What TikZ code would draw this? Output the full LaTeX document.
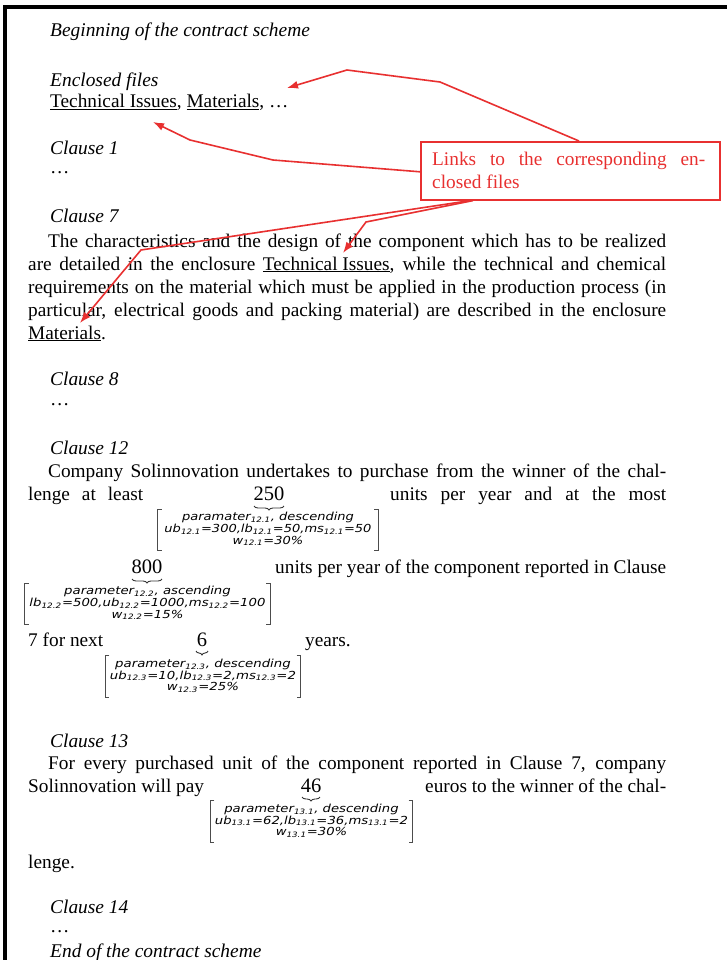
\documentclass[tikz,border=0pt]{standalone}
\usepackage{fontspec}
\usepackage{graphicx}
\setmainfont{Liberation Serif}
\newfontfamily\prmfont{DejaVu Sans}
\usetikzlibrary{decorations.pathreplacing,arrows.meta,calc}
\definecolor{lred}{RGB}{232,48,48}
\newcommand{\sbx}[1]{\textsubscript{\fontsize{6}{6}\selectfont #1}}
\newcommand{\prmblock}[5]{\resizebox*{#1}{#2}{\prmfont\itshape\fontsize{9}{10}\selectfont\renewcommand{\arraystretch}{0.9}\begin{tabular}{@{}c@{}}#3\\#4\\#5\end{tabular}}}
\tikzset{
  txt/.style={anchor=base west, inner sep=0pt, font=\fontsize{19.3}{22}\selectfont},
  hd/.style={anchor=base west, inner sep=0pt, font=\fontsize{19.4}{22}\selectfont\itshape},
  num/.style={anchor=base, inner sep=0pt, font=\fontsize{20.5}{22}\selectfont},
  prm/.style={inner sep=0pt},
  brk/.style={draw=black!70, line width=0.8pt},
  brc/.style={draw=black!80, line width=0.9pt, decorate, decoration={brace, amplitude=4pt, mirror}},
  link/.style={draw=lred, line width=1.6pt, -{Latex[length=11pt,width=8pt]}},
  lbox/.style={draw=lred, line width=1.6pt, inner sep=0pt, anchor=north west},
  ltxt/.style={anchor=base west, inner sep=0pt, text=lred, font=\fontsize{19.3}{22}\selectfont}
}
\begin{document}
\begin{tikzpicture}[x=1pt,y=-1pt]
\useasboundingbox (0,0) rectangle (726,960);
\fill[white] (0,0) rectangle (726,960);
% frame
\draw[line width=3.5pt] (5,970) -- (5,7) -- (740,7);

% text
\node[hd] (begin) at (50,37) {Beginning of the contract scheme};
\node[hd] (encl) at (50,87) {Enclosed files};
\node[txt] (files) at (50,108) {\underline{Technical Issues}, \underline{Materials}, \dots};
\node[hd] (c1) at (50,155) {Clause 1};
\node[txt] (d1) at (50,174) {\dots};
\node[hd] (c7) at (50,222) {Clause 7};
\node[txt] (l71) at (48,247) {\makebox[618pt][s]{The characteristics and the design of the component which has to be realized}};
\node[txt] (l72) at (28,270) {\makebox[638pt][s]{are detailed in the enclosure \underline{Technical Issues}, while the technical and chemical}};
\node[txt] (l73) at (28,293) {\makebox[638pt][s]{requirements on the material which must be applied in the production process (in}};
\node[txt] (l74) at (28,316) {\makebox[638pt][s]{particular, electrical goods and packing material) are described in the enclosure}};
\node[txt] (l75) at (28,339) {\underline{Materials}.};
\node[hd] (c8) at (50,385) {Clause 8};
\node[txt] (d8) at (50,405) {\dots};

\node[hd] (c12) at (50,454) {Clause 12};
\node[txt] (l121) at (48,477) {\makebox[618pt][s]{Company Solinnovation undertakes to purchase from the winner of the chal-}};
\node[txt] (l122a) at (28,500) {\makebox[115pt][s]{lenge at least}};
\node[num] (n250) at (269,500) {250};
\node[txt] (l122b) at (390,500) {\makebox[276pt][s]{units per year and at the most}};
\draw[brc] (254,506) -- (284,506);
\node[prm, minimum width=220pt, minimum height=40pt] (b1) at (268,530)
  {\prmblock{207pt}{35pt}{paramater\sbx{12.1}, descending}{ub\sbx{12.1}=300,lb\sbx{12.1}=50,ms\sbx{12.1}=50}{w\sbx{12.1}=30\%}};

\node[num] (n800) at (147,573) {800};
\node[txt] (l123) at (275,573) {\makebox[391pt][s]{units per year of the component reported in Clause}};
\draw[brc] (132,579) -- (162,579);
\node[prm, minimum width=245pt, minimum height=40pt] (b2) at (147.5,604)
  {\prmblock{236pt}{35pt}{parameter\sbx{12.2}, ascending}{lb\sbx{12.2}=500,ub\sbx{12.2}=1000,ms\sbx{12.2}=100}{w\sbx{12.2}=15\%}};

\node[txt] (l124a) at (28,646) {7 for next};
\node[num] (n6) at (202,646) {6};
\node[txt] (l124b) at (305,646) {years.};
\draw[brc] (196,651) -- (208,651);
\node[prm, minimum width=195pt, minimum height=41pt] (b3) at (203,676.5)
  {\prmblock{186pt}{35pt}{parameter\sbx{12.3}, descending}{ub\sbx{12.3}=10,lb\sbx{12.3}=2,ms\sbx{12.3}=2}{w\sbx{12.3}=25\%}};

\node[hd] (c13) at (50,747) {Clause 13};
\node[txt] (l131) at (48,769) {\makebox[618pt][s]{For every purchased unit of the component reported in Clause 7, company}};
\node[txt] (l132a) at (28,792) {Solinnovation will pay};
\node[num] (n46) at (311,792) {46};
\node[txt] (l132b) at (425,792) {\makebox[241pt][s]{euros to the winner of the chal-}};
\draw[brc] (302,797) -- (320,797);
\node[prm, minimum width=202pt, minimum height=41pt] (b4) at (311.5,821.5)
  {\prmblock{193pt}{35pt}{parameter\sbx{13.1}, descending}{ub\sbx{13.1}=62,lb\sbx{13.1}=36,ms\sbx{13.1}=2}{w\sbx{13.1}=30\%}};
\node[txt] (l133) at (28,868) {lenge.};

\node[hd] (c14) at (50,913) {Clause 14};
\node[txt] (d14) at (50,932) {\dots};
\node[hd] (end) at (50,957) {End of the contract scheme};

% brackets
\foreach \b in {b1,b2,b3,b4}{
  \draw[brk] ([xshift=4pt]\b.north west) -- (\b.north west) -- (\b.south west) -- ([xshift=4pt]\b.south west);
  \draw[brk] ([xshift=-4pt]\b.north east) -- (\b.north east) -- (\b.south east) -- ([xshift=-4pt]\b.south east);
}

% red callout
\node[lbox, minimum width=299pt, minimum height=58pt] (links) at (420,141) {};
\node[ltxt] (lk1) at (432,165) {\makebox[273pt][s]{Links to the corresponding en-}};
\node[ltxt] (lk2) at (432,188) {closed files};

\coordinate (t1) at (287,88);
\coordinate (t2) at (153,122);
\coordinate (t3) at (343,253);
\coordinate (t4) at (80,323);
\draw[link] ([xshift=159pt]links.north west) -- (440,82) -- (347,70) -- (t1);
\draw[link] ([yshift=-1pt]links.west) -- (273,160) -- (190,140) -- (t2);
\draw[link] ([xshift=53pt]links.south west) -- (366,222) -- (t3);
\draw[link] ([xshift=50pt]links.south west) -- (141,250) -- (t4);
\end{tikzpicture}
\end{document}
